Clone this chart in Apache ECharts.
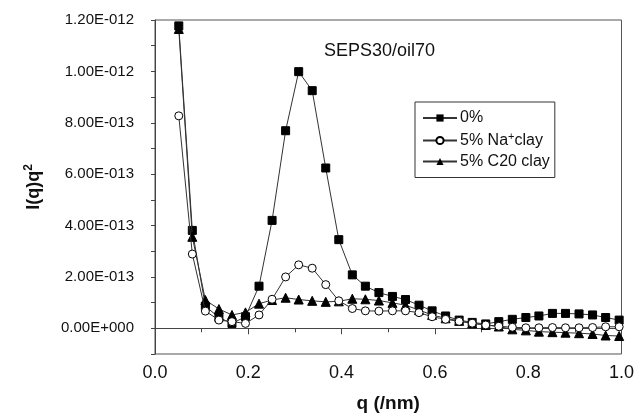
<!DOCTYPE html>
<html>
<head>
<meta charset="utf-8">
<script src="https://cdn.jsdelivr.net/npm/echarts@6/dist/echarts.min.js"></script>
<style>html,body{margin:0;padding:0;background:#fff;}#c{width:637px;height:418px;}</style>
</head>
<body>
<div id="c"></div>
<script>
// q values (1/nm)
const qValues = [0.051, 0.080, 0.108, 0.137, 0.165, 0.194, 0.223, 0.251, 0.280, 0.308, 0.337, 0.366, 0.394, 0.423, 0.451, 0.480, 0.509, 0.537, 0.566, 0.594, 0.623, 0.652, 0.680, 0.709, 0.737, 0.766, 0.795, 0.823, 0.852, 0.880, 0.909, 0.938, 0.966, 0.995];
// I(q)q^2 in units of 1e-12
const clay0 = [1.177, 0.381, 0.086, 0.042, 0.019, 0.045, 0.164, 0.420, 0.769, 0.999, 0.925, 0.624, 0.345, 0.208, 0.164, 0.139, 0.124, 0.112, 0.090, 0.068, 0.048, 0.032, 0.023, 0.017, 0.026, 0.035, 0.042, 0.048, 0.058, 0.058, 0.056, 0.052, 0.042, 0.032];
const naClay = [0.827, 0.289, 0.067, 0.032, 0.026, 0.019, 0.052, 0.113, 0.200, 0.247, 0.234, 0.170, 0.107, 0.077, 0.068, 0.067, 0.068, 0.068, 0.061, 0.045, 0.035, 0.027, 0.020, 0.013, 0.008, 0.004, 0.002, 0.002, 0.003, 0.002, 0.002, 0.003, 0.006, 0.006];
const c20Clay = [1.165, 0.356, 0.110, 0.075, 0.052, 0.062, 0.096, 0.110, 0.119, 0.112, 0.107, 0.103, 0.105, 0.115, 0.113, 0.108, 0.099, 0.090, 0.071, 0.052, 0.039, 0.029, 0.019, 0.013, 0.007, -0.004, -0.008, -0.013, -0.015, -0.017, -0.019, -0.022, -0.028, -0.030];
const seriesNames = ['0%', '5% Na+clay', '5% C20 clay'];
const xTicks = [0.0, 0.2, 0.4, 0.6, 0.8, 1.0];
const yUnit = 1e-12;

function pair(ys){ return qValues.map((q,i)=>[q, ys[i]]); }
function fmtY(v){
  const n = Math.round(v*10);
  if (n < 0 || n % 2 !== 0) return '';
  if (n === 0) return '0.00E+000';
  const val = n * yUnit / 10;
  const e = Math.floor(Math.log10(val) + 1e-9);
  const m = val / Math.pow(10, e);
  return m.toFixed(2) + 'E' + (e < 0 ? '-' : '+') + String(Math.abs(e)).padStart(3, '0');
}
const lineCol = '#333';
const font = 'Liberation Sans, Arial, Helvetica, sans-serif';
const chart = echarts.init(document.getElementById('c'), null, {renderer:'canvas'});
chart.setOption({
  animation: false,
  backgroundColor: '#fff',
  title: {text: 'SEPS30/oil70', left: 319, top: 37, textStyle: {fontFamily: font, fontSize: 18, fontWeight: 'normal', color: '#111'}},
  grid: {left: 155, right: 14, top: 20, bottom: 61, show: true, borderColor: '#555', borderWidth: 1, backgroundColor: 'transparent'},
  legend: {
    orient: 'vertical', left: 415, top: 102,
    data: ['0%', '5% Na+clay', '5% C20 clay'],
    itemWidth: 34, itemHeight: 9, itemGap: 5,
    borderColor: '#333', borderWidth: 1, padding: [8, 5, 8, 7],
    formatter: function(name){ return name === '5% Na+clay' ? '5% Na{sup|+}clay' : name; },
    textStyle: {fontFamily: font, fontSize: 16, color: '#111', padding: [0,0,0,-2],
      rich: {sup: {fontFamily: font, fontSize: 11, color: '#111', verticalAlign: 'top', padding: [0,0,8,0]}}}
  },
  xAxis: {
    type: 'value', min: 0, max: 1, interval: 0.2,
    name: 'q (/nm)', nameLocation: 'middle', nameGap: 40,
    nameTextStyle: {fontFamily: font, fontSize: 19, fontWeight: 'bold', color: '#111'},
    axisLine: {lineStyle: {color: '#444', width: 1}},
    axisTick: {length: 6, lineStyle: {color: '#444'}},
    minorTick: {show: true, splitNumber: 2, length: 4, lineStyle: {color: '#444'}},
    axisLabel: {fontFamily: font, fontSize: 18, color: '#111', margin: 10,
      formatter: v => xTicks.some(t => Math.abs(t - v) < 1e-6) ? v.toFixed(1) : ''},
    splitLine: {show: false}
  },
  yAxis: {
    type: 'value', min: -0.1, max: 1.2, interval: 0.1,
    name: 'I(q)q{sup|2}', nameLocation: 'middle', nameGap: 110,
    nameTextStyle: {fontFamily: font, fontSize: 18, fontWeight: 'bold', color: '#111',
      rich: {sup: {fontFamily: font, fontSize: 12, fontWeight: 'bold', color: '#111', verticalAlign: 'top', padding: [0,0,10,0]}}},
    axisLine: {show: true, lineStyle: {color: '#444', width: 1}},
    axisTick: {show: true, length: 4, lineStyle: {color: '#444'}},
    axisLabel: {fontFamily: font, fontSize: 15, color: '#111', margin: 21, formatter: fmtY},
    splitLine: {show: false}
  },
  series: [
    {name: seriesNames[0], type: 'line', data: pair(clay0), symbol: 'rect', symbolSize: 8,
      lineStyle: {color: lineCol, width: 1}, itemStyle: {color: '#000', borderColor: '#000'}, z: 2},
    {name: seriesNames[2], type: 'line', data: pair(c20Clay), symbol: 'triangle', symbolSize: 9,
      lineStyle: {color: lineCol, width: 1}, itemStyle: {color: '#000', borderColor: '#000'}, z: 3},
    {name: seriesNames[1], type: 'line', data: pair(naClay), symbol: 'circle', symbolSize: 8,
      lineStyle: {color: lineCol, width: 1}, itemStyle: {color: '#fff', borderColor: '#000', borderWidth: 1}, z: 4}
  ]
});
</script>
</body>
</html>
